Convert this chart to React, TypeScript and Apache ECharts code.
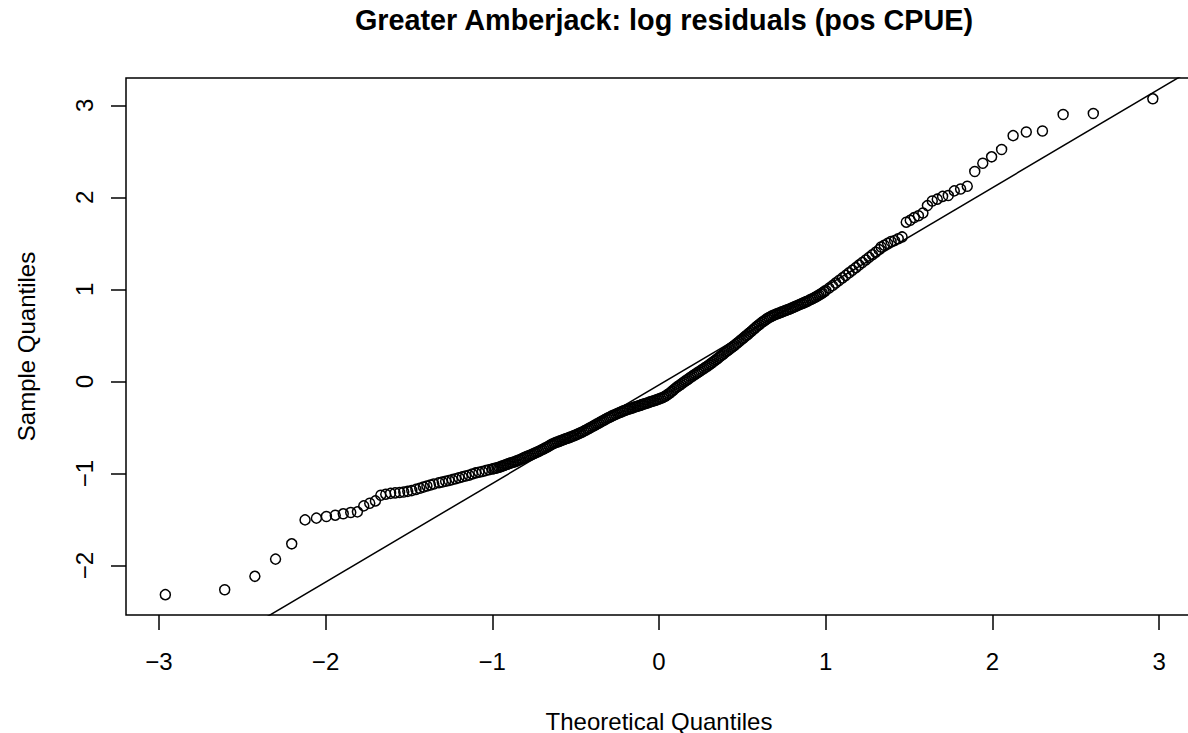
import React, { useEffect, useRef } from "react";
import * as echarts from "echarts";

const TITLE = "Greater Amberjack: log residuals (pos CPUE)";
const X_NAME = "Theoretical Quantiles";
const Y_NAME = "Sample Quantiles";
const X_TICKS = [-3, -2, -1, 0, 1, 2, 3];
const Y_TICKS = [-2, -1, 0, 1, 2, 3];
const X_MIN = -3.197;
const X_MAX = 3.197;
const Y_MIN = -2.536;
const Y_MAX = 3.296;

// qqline
const LINE_INTERCEPT = -0.037;
const LINE_SLOPE = 1.071;

// [theoretical, sample] pairs
const LEFT_TAIL: number[][] = [
  [-2.961, -2.315], [-2.605, -2.262], [-2.424, -2.116], [-2.3, -1.929], [-2.203, -1.763],
  [-2.123, -1.503], [-2.055, -1.484], [-1.995, -1.466], [-1.942, -1.452], [-1.894, -1.437],
  [-1.849, -1.423], [-1.809, -1.416], [-1.771, -1.351], [-1.735, -1.322], [-1.701, -1.297],
  [-1.669, -1.235], [-1.639, -1.224], [-1.61, -1.215], [-1.583, -1.21], [-1.556, -1.206],
  [-1.531, -1.2], [-1.507, -1.193], [-1.483, -1.185], [-1.458, -1.172], [-1.435, -1.16],
  [-1.413, -1.147], [-1.392, -1.135], [-1.371, -1.124], [-1.351, -1.113],
];

const MIDDLE: number[][] = [
  [-1.32, -1.1], [-1.3, -1.092], [-1.28, -1.083], [-1.26, -1.075], [-1.24, -1.066],
  [-1.22, -1.056], [-1.2, -1.045], [-1.18, -1.036], [-1.16, -1.027], [-1.14, -1.018],
  [-1.12, -1.004], [-1.1, -0.993], [-1.08, -0.985], [-1.06, -0.978], [-1.04, -0.968],
  [-1.02, -0.958],
  [-1.0, -0.95], [-0.99, -0.946], [-0.98, -0.942], [-0.97, -0.937], [-0.96, -0.931],
  [-0.95, -0.925], [-0.94, -0.918], [-0.93, -0.912], [-0.92, -0.905], [-0.91, -0.898],
  [-0.9, -0.892], [-0.89, -0.886], [-0.88, -0.88], [-0.87, -0.874], [-0.86, -0.868],
  [-0.85, -0.861], [-0.84, -0.853], [-0.83, -0.846], [-0.82, -0.838], [-0.81, -0.829],
  [-0.8, -0.821], [-0.79, -0.813], [-0.78, -0.806], [-0.77, -0.798], [-0.76, -0.79],
  [-0.75, -0.782], [-0.74, -0.775], [-0.73, -0.766], [-0.72, -0.757], [-0.71, -0.748],
  [-0.7, -0.74], [-0.69, -0.73], [-0.68, -0.72], [-0.67, -0.711], [-0.66, -0.7],
  [-0.65, -0.69], [-0.64, -0.68], [-0.63, -0.672], [-0.62, -0.664], [-0.61, -0.657],
  [-0.6, -0.651], [-0.59, -0.644], [-0.58, -0.637], [-0.57, -0.63], [-0.56, -0.623],
  [-0.55, -0.616], [-0.54, -0.61], [-0.53, -0.603], [-0.52, -0.596], [-0.51, -0.589],
  [-0.5, -0.581], [-0.49, -0.573], [-0.48, -0.565], [-0.47, -0.557], [-0.46, -0.548],
  [-0.45, -0.539], [-0.44, -0.53], [-0.43, -0.52], [-0.42, -0.51], [-0.41, -0.5],
  [-0.4, -0.49], [-0.39, -0.48], [-0.38, -0.47], [-0.37, -0.46], [-0.36, -0.45],
  [-0.35, -0.44], [-0.34, -0.43], [-0.33, -0.42], [-0.32, -0.41], [-0.31, -0.4],
  [-0.3, -0.391], [-0.29, -0.382], [-0.28, -0.373], [-0.27, -0.365], [-0.26, -0.357],
  [-0.25, -0.349], [-0.24, -0.341], [-0.23, -0.333], [-0.22, -0.325], [-0.21, -0.318],
  [-0.2, -0.311], [-0.19, -0.305], [-0.18, -0.299], [-0.17, -0.293], [-0.16, -0.287],
  [-0.15, -0.281], [-0.14, -0.275], [-0.13, -0.269], [-0.12, -0.263], [-0.11, -0.257],
  [-0.1, -0.251], [-0.09, -0.245], [-0.08, -0.239], [-0.07, -0.233], [-0.06, -0.227],
  [-0.05, -0.221], [-0.04, -0.215], [-0.03, -0.209], [-0.02, -0.203], [-0.01, -0.197],
  [0.0, -0.19], [0.01, -0.183], [0.02, -0.176], [0.03, -0.167], [0.04, -0.157],
  [0.05, -0.145], [0.06, -0.132], [0.07, -0.118], [0.08, -0.103], [0.09, -0.087],
  [0.1, -0.072], [0.11, -0.058], [0.12, -0.045], [0.13, -0.032], [0.14, -0.019],
  [0.15, -0.006], [0.16, 0.007], [0.17, 0.02], [0.18, 0.033], [0.19, 0.046],
  [0.2, 0.058], [0.21, 0.07], [0.22, 0.082], [0.23, 0.094], [0.24, 0.106],
  [0.25, 0.118], [0.26, 0.13], [0.27, 0.142], [0.28, 0.154], [0.29, 0.166],
  [0.3, 0.179], [0.31, 0.192], [0.32, 0.206], [0.33, 0.22], [0.34, 0.234],
  [0.35, 0.248], [0.36, 0.262], [0.37, 0.276], [0.38, 0.29], [0.39, 0.305],
  [0.4, 0.319], [0.41, 0.333], [0.42, 0.347], [0.43, 0.361], [0.44, 0.375],
  [0.45, 0.389], [0.46, 0.403], [0.47, 0.418], [0.48, 0.433], [0.49, 0.448],
  [0.5, 0.463], [0.51, 0.478], [0.52, 0.493], [0.53, 0.508], [0.54, 0.523],
  [0.55, 0.539], [0.56, 0.555], [0.57, 0.571], [0.58, 0.587], [0.59, 0.602],
  [0.6, 0.617], [0.61, 0.631], [0.62, 0.645], [0.63, 0.658], [0.64, 0.671],
  [0.65, 0.683], [0.66, 0.694], [0.67, 0.704], [0.68, 0.713], [0.69, 0.721],
  [0.7, 0.729], [0.71, 0.736], [0.72, 0.743], [0.73, 0.75], [0.74, 0.757],
  [0.75, 0.764], [0.76, 0.771], [0.77, 0.778], [0.78, 0.785], [0.79, 0.792],
  [0.8, 0.8], [0.81, 0.808], [0.82, 0.816], [0.83, 0.824], [0.84, 0.832],
  [0.85, 0.84], [0.86, 0.848], [0.87, 0.856], [0.88, 0.864], [0.89, 0.872],
  [0.9, 0.881], [0.91, 0.89], [0.92, 0.899], [0.93, 0.908], [0.94, 0.918],
  [0.95, 0.928], [0.96, 0.939], [0.97, 0.95], [0.98, 0.962], [0.99, 0.975],
  [1.0, 0.988],
  [1.02, 1.014], [1.04, 1.041], [1.06, 1.069], [1.08, 1.097], [1.1, 1.125],
  [1.12, 1.152], [1.14, 1.18], [1.16, 1.208], [1.18, 1.236], [1.2, 1.264],
  [1.22, 1.292], [1.24, 1.32], [1.26, 1.348], [1.28, 1.376], [1.3, 1.404],
  [1.32, 1.432],
];

const RIGHT_TAIL: number[][] = [
  [1.332, 1.46], [1.351, 1.48], [1.371, 1.5], [1.392, 1.52], [1.413, 1.53],
  [1.435, 1.55], [1.458, 1.57], [1.483, 1.73], [1.507, 1.75], [1.531, 1.78],
  [1.556, 1.8], [1.583, 1.83], [1.61, 1.91], [1.639, 1.96], [1.669, 1.98],
  [1.701, 2.01], [1.735, 2.02], [1.771, 2.07], [1.809, 2.09], [1.849, 2.12],
  [1.894, 2.28], [1.942, 2.37], [1.995, 2.44], [2.055, 2.52], [2.124, 2.67],
  [2.203, 2.71], [2.3, 2.72], [2.424, 2.9], [2.605, 2.91], [2.962, 3.07],
];

const FONT = "'Liberation Sans', Arial, Helvetica, sans-serif";
const LW = 1.5;

const fmt = (v: number) => (v < 0 ? "\u2212" + Math.abs(v) : String(v));

export default function App() {
  const ref = useRef<HTMLDivElement>(null);
  useEffect(() => {
    if (!ref.current) return;
    const chart = echarts.init(ref.current, null, { renderer: "svg" });
    const points = [...LEFT_TAIL, ...MIDDLE, ...RIGHT_TAIL];
    const lineData = [
      [-3.5, LINE_INTERCEPT + LINE_SLOPE * -3.5],
      [3.5, LINE_INTERCEPT + LINE_SLOPE * 3.5],
    ];
    chart.setOption({
      animation: false,
      backgroundColor: "#fff",
      title: {
        text: TITLE,
        left: 659,
        top: 0,
        textAlign: "center",
        textStyle: { fontSize: 28.8, fontWeight: "bold", color: "#000", fontFamily: FONT },
      },
      grid: {
        left: 126,
        top: 78,
        width: 1066,
        height: 537,
        show: true,
        borderColor: "#000",
        borderWidth: LW,
        backgroundColor: "transparent",
        containLabel: false,
        outerBoundsMode: "none",
      },
      xAxis: {
        type: "value",
        min: X_MIN,
        max: X_MAX,
        name: X_NAME,
        nameLocation: "middle",
        nameGap: 94,
        nameTextStyle: { fontSize: 24, color: "#000", fontFamily: FONT },
        splitLine: { show: false },
        axisLine: { show: false, onZero: false },
        axisTick: {
          show: true,
          length: 15,
          inside: false,
          customValues: X_TICKS,
          lineStyle: { color: "#000", width: LW },
        },
        axisLabel: {
          show: true,
          customValues: X_TICKS,
          margin: 34,
          fontSize: 24,
          color: "#000",
          fontFamily: FONT,
          formatter: fmt,
        },
      },
      yAxis: {
        type: "value",
        min: Y_MIN,
        max: Y_MAX,
        name: Y_NAME,
        nameLocation: "middle",
        nameGap: 88,
        nameRotate: 90,
        nameTextStyle: { fontSize: 24, color: "#000", fontFamily: FONT },
        splitLine: { show: false },
        axisLine: { show: false, onZero: false },
        axisTick: {
          show: true,
          length: 15,
          inside: false,
          customValues: Y_TICKS,
          lineStyle: { color: "#000", width: LW },
        },
        axisLabel: {
          show: true,
          customValues: Y_TICKS,
          rotate: 90,
          margin: 30,
          fontSize: 24,
          color: "#000",
          fontFamily: FONT,
          formatter: fmt,
        },
      },
      series: [
        {
          type: "scatter",
          data: points,
          symbol: "circle",
          symbolSize: 10,
          silent: true,
          itemStyle: { color: "rgba(0,0,0,0)", borderColor: "#000", borderWidth: LW, opacity: 1 },
        },
        {
          type: "line",
          data: lineData,
          showSymbol: false,
          silent: true,
          clip: true,
          lineStyle: { color: "#000", width: LW },
        },
      ],
    });
    return () => chart.dispose();
  }, []);
  return (
    <div
      ref={ref}
      style={{ position: "fixed", left: 0, top: 0, width: 1188, height: 733, background: "#fff" }}
    />
  );
}
